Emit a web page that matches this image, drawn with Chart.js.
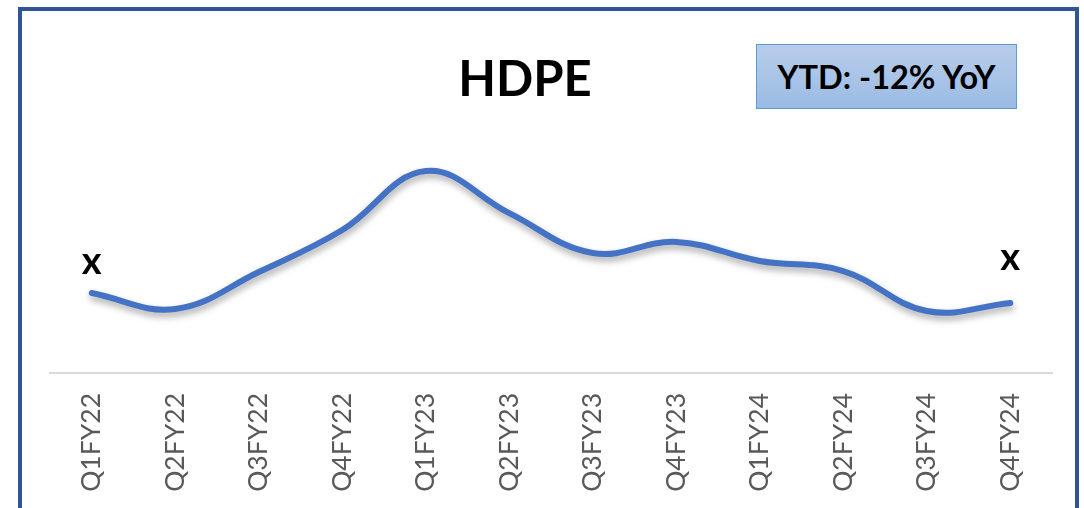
<!DOCTYPE html>
<html>
<head>
<meta charset="utf-8">
<script src="https://cdn.jsdelivr.net/npm/chart.js@4/dist/chart.umd.min.js"></script>
<style>
  html, body { margin: 0; padding: 0; background: #fff; overflow: hidden; }
  #wrap { position: relative; width: 1084px; height: 508px; overflow: hidden; }
  #frame { position: absolute; left: 18px; top: 7px; width: 1061px; height: 600px; box-sizing: border-box; border: 4px solid #2f5597; }
  #c { position: absolute; left: 0; top: 0; }
  #title { position: absolute; left: 425px; top: 47px; width: 200px; text-align: center; font: bold 49px Lato, "Open Sans", sans-serif; line-height: 60px; color: #000; }
  #ytd { position: absolute; left: 756px; top: 44px; width: 261px; height: 65px; box-sizing: border-box; border: 1px solid #5b9bd5; background: linear-gradient(#b8cdeb, #9bbbe3); text-align: center; font: bold 32.5px Lato, "Open Sans", sans-serif; line-height: 63px; color: #000; }
</style>
</head>
<body>
<div id="wrap">
  <div id="frame"></div>
  <canvas id="c" width="1084" height="508"></canvas>
  <div id="title">HDPE</div>
  <div id="ytd">YTD: -12% YoY</div>
</div>
<script>
const categories = ["Q1FY22","Q2FY22","Q3FY22","Q4FY22","Q1FY23","Q2FY23","Q3FY23","Q4FY23","Q1FY24","Q2FY24","Q3FY24","Q4FY24"];
const hdpeIndex = [31.6, 25.3, 39.9, 56.5, 79.8, 63.2, 47.4, 51.8, 44.3, 40.3, 24.5, 27.7];
// "x" marks placed above the first and last points (value = text baseline)
const markerCategories = ["Q1FY22", "Q4FY24"];
const markerValues = [39.1, 40.7];
const markerText = "x";

const shadowPlugin = {
  id: 'lineShadow',
  beforeDatasetsDraw(chart) {
    const ctx = chart.ctx;
    ctx.save();
    ctx.shadowColor = 'rgba(0,0,0,0.35)';
    ctx.shadowBlur = 7;
    ctx.shadowOffsetX = 1;
    ctx.shadowOffsetY = 4;
  },
  afterDatasetsDraw(chart) {
    chart.ctx.restore();
  }
};

const markerPlugin = {
  id: 'xMarkers',
  afterDraw(chart) {
    const ctx = chart.ctx;
    const xs = chart.scales.x, ys = chart.scales.y;
    ctx.save();
    ctx.font = 'bold 38px Lato, "Open Sans", sans-serif';
    ctx.fillStyle = '#000';
    ctx.textAlign = 'center';
    ctx.textBaseline = 'alphabetic';
    markerCategories.forEach((cat, i) => {
      const px = xs.getPixelForValue(categories.indexOf(cat));
      const py = ys.getPixelForValue(markerValues[i]);
      ctx.fillText(markerText, px, py);
    });
    ctx.restore();
  }
};

new Chart(document.getElementById('c'), {
  type: 'line',
  data: {
    labels: categories,
    datasets: [{
      label: 'HDPE',
      data: hdpeIndex,
      borderColor: '#4472c4',
      borderWidth: 6,
      borderCapStyle: 'round',
      borderJoinStyle: 'round',
      tension: 0.4,
      pointRadius: 0,
      fill: false,
      clip: false
    }]
  },
  options: {
    responsive: false,
    animation: false,
    events: [],
    layout: { padding: { left: 50, right: 32, top: 120, bottom: 0 } },
    plugins: { legend: { display: false }, title: { display: false }, tooltip: { enabled: false } },
    scales: {
      x: {
        offset: true,
        grid: { display: false, drawTicks: false },
        border: { display: true, color: '#d9d9d9', width: 2 },
        ticks: {
          minRotation: 90, maxRotation: 90,
          padding: 20,
          color: '#595959',
          font: { family: 'Lato', size: 26.5 }
        },
        afterFit(axis) { axis.height = 135; }
      },
      y: {
        display: false,
        min: 0, max: 100
      }
    }
  },
  plugins: [shadowPlugin, markerPlugin]
});
</script>
</body>
</html>
